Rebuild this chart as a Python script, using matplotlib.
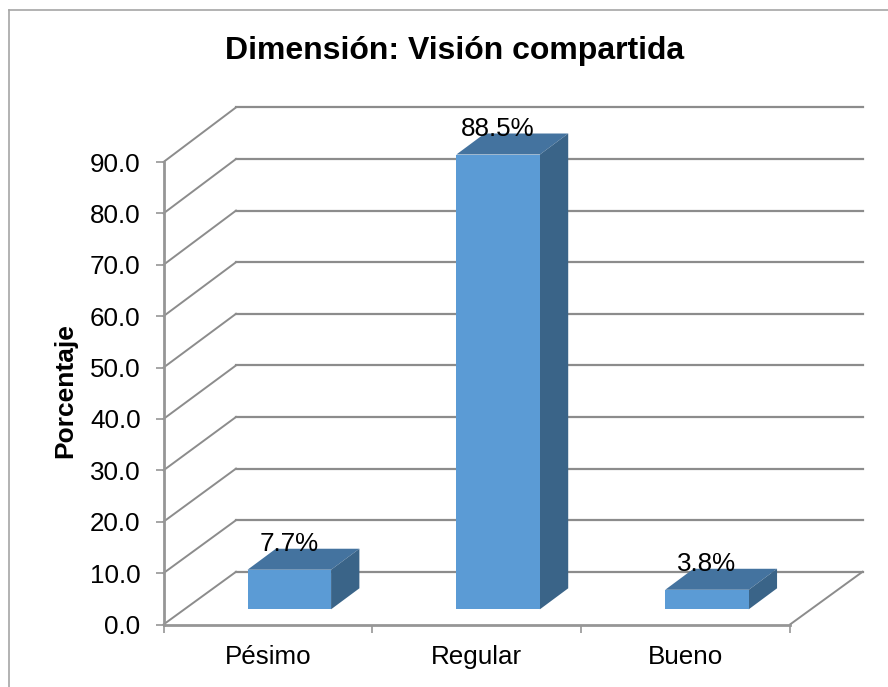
import matplotlib
matplotlib.use("Agg")
import matplotlib.pyplot as plt
from matplotlib.lines import Line2D
from matplotlib.patches import Polygon

plt.rcParams["font.family"] = ["Liberation Sans", "DejaVu Sans"]

categories = ["Pésimo", "Regular", "Bueno"]
values = [7.7, 88.5, 3.8]
value_labels = ["7.7%", "88.5%", "3.8%"]
y_ticks = [0, 10, 20, 30, 40, 50, 60, 70, 80, 90]

W, H = 888, 687
GREY = "#8c8c8c"
AXIS_GREY = "#969696"
FRONT = "#5b9bd5"
TOP = "#44739f"
SIDE = "#3a6488"

# plot box in pixels (front plane)
left, right, bottom, top = 163.5, 790, 624.5, 162

fig = plt.figure(figsize=(W / 100, H / 100), dpi=100)
fig.patch.set_facecolor("white")
ax = fig.add_axes([left / W, 1 - bottom / H, (right - left) / W, (bottom - top) / H])
ax.set_xlim(0, 3)
ax.set_ylim(0, 90)
ax.patch.set_visible(False)

px_x = 3 / (right - left)
px_y = 90 / (bottom - top)

# depth of the back wall and of the bars
wall_dx, wall_dy = 72.5 * px_x, 52.7 * px_y
wall_scale = 464.4 / 462.5  # back wall is a touch taller than the front
bar_dx, bar_dy = 28.3 * px_x, 21 * px_y
base_dx, base_dy = 21.4 * px_x, 15.2 * px_y
bar_w = 0.4

# chart frame, only left and top edges show in the crop
fig.add_artist(Line2D([9 / W, 9 / W], [0, 1 - 10 / H], color="#a6a6a6", lw=1.2,
                      transform=fig.transFigure))
fig.add_artist(Line2D([9 / W, 1], [1 - 10 / H, 1 - 10 / H], color="#a6a6a6", lw=1.2,
                      transform=fig.transFigure))

# walls
for t in y_ticks:
    back = t * wall_scale + wall_dy
    ax.plot([0, wall_dx], [t, back], color=GREY, lw=1.4, clip_on=False, zorder=1)
    ax.plot([wall_dx, 3 + wall_dx], [back, back], color=GREY, lw=1.6,
            clip_on=False, zorder=1)
ax.plot([3, 3 + wall_dx], [0, wall_dy], color=GREY, lw=1.4, clip_on=False, zorder=1)

# bars
xs = [i + 0.5 for i in range(len(values))]
for x, v in zip(xs, values):
    x0 = x - bar_w / 2 + base_dx
    x1 = x + bar_w / 2 + base_dx
    y0 = base_dy
    y1 = base_dy + v
    ax.add_patch(Polygon([(x0, y1), (x1, y1), (x1 + bar_dx, y1 + bar_dy), (x0 + bar_dx, y1 + bar_dy)],
                         fc=TOP, ec="none", clip_on=False, zorder=3))
    ax.add_patch(Polygon([(x1, y0), (x1 + bar_dx, y0 + bar_dy), (x1 + bar_dx, y1 + bar_dy), (x1, y1)],
                         fc=SIDE, ec="none", clip_on=False, zorder=3))
ax.bar([x + base_dx for x in xs], values, width=bar_w, bottom=base_dy, color=FRONT, zorder=3,
       clip_on=False)

for x, v, lab in zip(xs, values, value_labels):
    ax.text(x + base_dx, base_dy + v + 26 * px_y, lab, ha="center", va="center",
            fontsize=18.7, color="black", zorder=5, clip_on=False)

# axes
for side in ["top", "right"]:
    ax.spines[side].set_visible(False)
for side in ["left", "bottom"]:
    ax.spines[side].set_color(AXIS_GREY)
    ax.spines[side].set_linewidth(2.0)
    ax.spines[side].set_zorder(2)
ax.set_yticks(y_ticks)
ax.set_yticklabels([f"{t:.1f}" for t in y_ticks])
ax.set_xticks([0, 1, 2, 3])
ax.set_xticklabels([])
ax.set_xticks(xs, minor=True)
ax.set_xticklabels(categories, minor=True)
ax.tick_params(axis="y", length=5.5, width=1.2, color=AXIS_GREY, labelsize=18.7, pad=11)
ax.tick_params(axis="x", which="major", length=5.5, width=1.2, color=AXIS_GREY)
ax.tick_params(axis="x", which="minor", length=0, labelsize=18.7, pad=14.5)

fig.text(65 / W, 1 - 391 / H, "Porcentaje", rotation=90, ha="center", va="center",
         fontsize=19, fontweight="bold")
fig.text(455 / W, 1 - 51.5 / H, "Dimensión: Visión compartida", ha="center", va="center",
         fontsize=23, fontweight="bold")

fig.savefig("out.png", dpi=100, facecolor="white")
